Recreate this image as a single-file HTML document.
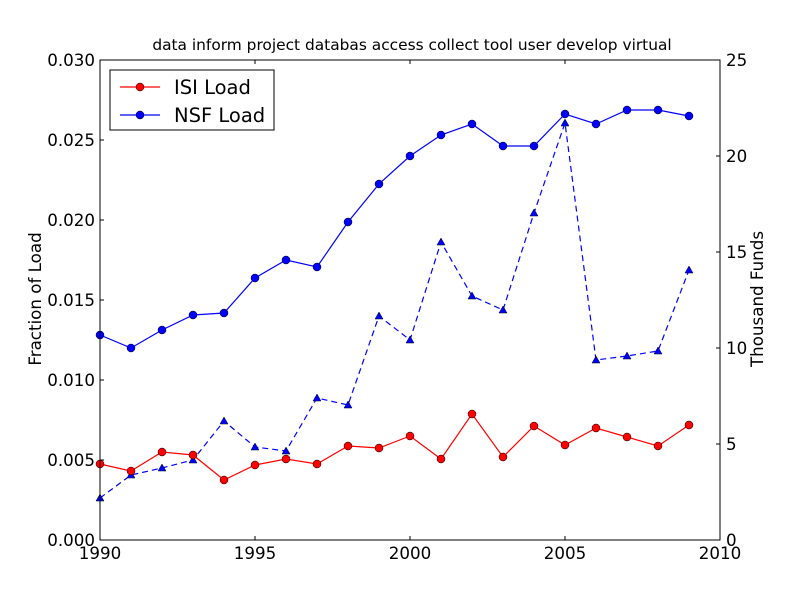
<!DOCTYPE html>
<html><head><meta charset="utf-8"><style>body{margin:0;background:#fff}svg{display:block}text{font-family:"DejaVu Sans","Liberation Sans",sans-serif}</style></head>
<body>
<svg width="800" height="600" viewBox="0 0 800 600" xmlns="http://www.w3.org/2000/svg">
<rect width="800" height="600" fill="#fff"/>
<text x="412" y="50" font-size="15.4" text-anchor="middle">data inform project databas access collect tool user develop virtual</text>
<g id="plot">
<polyline fill="none" stroke="#0000ff" stroke-width="1.2" stroke-dasharray="6,4" points="100,498 131,475 162,468 193,460 224,421 255,447 286,451 317,398 348,405 379,316 410,340 441,242 472,296 503,310 534,213 565,123 596,360 627,356 658,351 689,270"/>
<polyline fill="none" stroke="#0000ff" stroke-width="1.2" points="100,335 131,348 162,330 193,315 224,313 255,278 286,260 317,267 348,222 379,184 410,156 441,135 472,124 503,146 534,146 565,114 596,124 627,110 658,110 689,116"/>
<polyline fill="none" stroke="#ff0000" stroke-width="1.2" points="100,464 131,471 162,452 193,455 224,480 255,465 286,459 317,464 348,446 379,448 410,436 441,459 472,414 503,457 534,426 565,445 596,428 627,437 658,446 689,425"/>
<g fill="#0000ff" stroke="#000" stroke-width="0.5">
<path d="M100,494l4,7h-8z M131,471l4,7h-8z M162,464l4,7h-8z M193,456l4,7h-8z M224,417l4,7h-8z M255,443l4,7h-8z M286,447l4,7h-8z M317,394l4,7h-8z M348,401l4,7h-8z M379,312l4,7h-8z M410,336l4,7h-8z M441,238l4,7h-8z M472,292l4,7h-8z M503,306l4,7h-8z M534,209l4,7h-8z M565,119l4,7h-8z M596,356l4,7h-8z M627,352l4,7h-8z M658,347l4,7h-8z M689,266l4,7h-8z"/>
</g>
<g fill="#0000ff" stroke="#000" stroke-width="0.5">
<circle cx="100" cy="335" r="4"/><circle cx="131" cy="348" r="4"/><circle cx="162" cy="330" r="4"/><circle cx="193" cy="315" r="4"/><circle cx="224" cy="313" r="4"/><circle cx="255" cy="278" r="4"/><circle cx="286" cy="260" r="4"/><circle cx="317" cy="267" r="4"/><circle cx="348" cy="222" r="4"/><circle cx="379" cy="184" r="4"/><circle cx="410" cy="156" r="4"/><circle cx="441" cy="135" r="4"/><circle cx="472" cy="124" r="4"/><circle cx="503" cy="146" r="4"/><circle cx="534" cy="146" r="4"/><circle cx="565" cy="114" r="4"/><circle cx="596" cy="124" r="4"/><circle cx="627" cy="110" r="4"/><circle cx="658" cy="110" r="4"/><circle cx="689" cy="116" r="4"/>
</g>
<g fill="#ff0000" stroke="#000" stroke-width="0.5">
<circle cx="100" cy="464" r="4"/><circle cx="131" cy="471" r="4"/><circle cx="162" cy="452" r="4"/><circle cx="193" cy="455" r="4"/><circle cx="224" cy="480" r="4"/><circle cx="255" cy="465" r="4"/><circle cx="286" cy="459" r="4"/><circle cx="317" cy="464" r="4"/><circle cx="348" cy="446" r="4"/><circle cx="379" cy="448" r="4"/><circle cx="410" cy="436" r="4"/><circle cx="441" cy="459" r="4"/><circle cx="472" cy="414" r="4"/><circle cx="503" cy="457" r="4"/><circle cx="534" cy="426" r="4"/><circle cx="565" cy="445" r="4"/><circle cx="596" cy="428" r="4"/><circle cx="627" cy="437" r="4"/><circle cx="658" cy="446" r="4"/><circle cx="689" cy="425" r="4"/>
</g>
</g>
<rect x="100" y="60" width="620" height="480" fill="none" stroke="#000" stroke-width="1"/>
<g stroke="#000" stroke-width="1">
<path d="M100,540v-4M100,60v4M255,540v-4M255,60v4M410,540v-4M410,60v4M565,540v-4M565,60v4M720,540v-4M720,60v4"/>
<path d="M100,540h4M100,460h4M100,380h4M100,300h4M100,220h4M100,140h4M100,60h4"/>
<path d="M720,540h-4M720,444h-4M720,348h-4M720,252h-4M720,156h-4M720,60h-4"/>
</g>
<g font-size="16.7" text-anchor="middle">
<text x="100" y="559">1990</text><text x="255" y="559">1995</text><text x="410" y="559">2000</text><text x="565" y="559">2005</text><text x="720" y="559">2010</text>
</g>
<g font-size="16.7" text-anchor="end">
<text x="95" y="546">0.000</text><text x="95" y="466">0.005</text><text x="95" y="386">0.010</text><text x="95" y="306">0.015</text><text x="95" y="226">0.020</text><text x="95" y="146">0.025</text><text x="95" y="66">0.030</text>
</g>
<g font-size="16.7" text-anchor="start">
<text x="726" y="546">0</text><text x="726" y="450">5</text><text x="726" y="354">10</text><text x="726" y="258">15</text><text x="726" y="162">20</text><text x="726" y="66">25</text>
</g>
<text transform="translate(41,299) rotate(-90)" font-size="16.7" text-anchor="middle">Fraction of Load</text>
<text transform="translate(763,299) rotate(-90)" font-size="16.7" text-anchor="middle">Thousand Funds</text>
<rect x="110" y="70" width="164" height="60" fill="#fff" stroke="#000" stroke-width="1"/>
<line x1="120" y1="87" x2="160" y2="87" stroke="#ff0000" stroke-width="1.2"/>
<circle cx="140" cy="87" r="4" fill="#ff0000" stroke="#000" stroke-width="0.5"/>
<text x="174" y="94" font-size="19.5">ISI Load</text>
<line x1="120" y1="115" x2="160" y2="115" stroke="#0000ff" stroke-width="1.2"/>
<circle cx="140" cy="115" r="4" fill="#0000ff" stroke="#000" stroke-width="0.5"/>
<text x="174" y="122" font-size="19.5">NSF Load</text>
</svg>
</body></html>
